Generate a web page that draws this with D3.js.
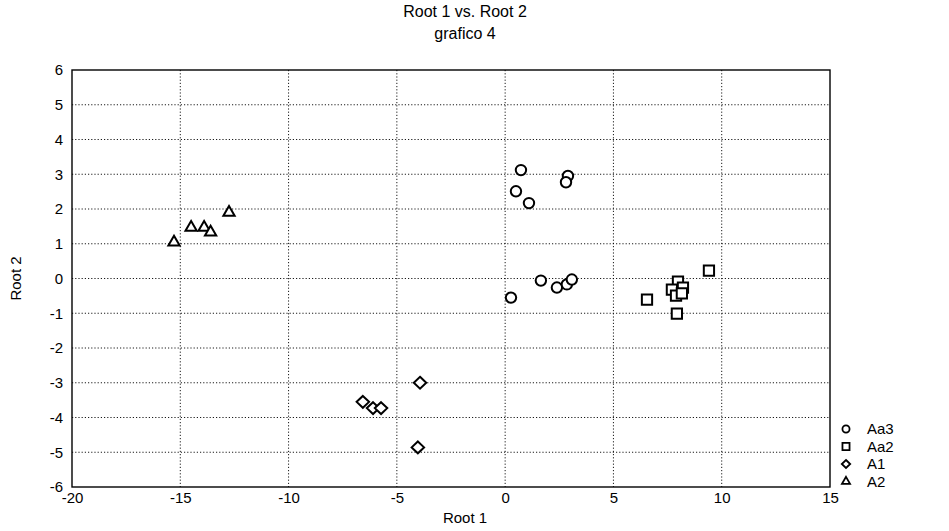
<!DOCTYPE html>
<html lang="en">
<head>
<meta charset="utf-8">
<title>Root 1 vs. Root 2</title>
<script src="https://d3js.org/d3.v7.min.js"></script>
<style>
  body { margin: 0; background: #fff; }
  text { font-family: "Liberation Sans", Arial, sans-serif; fill: #000; }
</style>
</head>
<body>
<script>
// series: [Root 1, Root 2]
var aa3 = [[0.73, 3.12], [2.9, 2.95], [2.81, 2.77], [0.5, 2.51], [1.1, 2.17],
           [1.65, -0.06], [2.39, -0.26], [2.85, -0.17], [3.08, -0.03], [0.27, -0.55]];
var aa2 = [[9.41, 0.23], [7.98, -0.09], [7.7, -0.32], [8.21, -0.26], [7.89, -0.49],
           [8.16, -0.43], [6.55, -0.61], [7.93, -1.01]];
var a1 = [[-3.93, -3.0], [-6.57, -3.55], [-6.1, -3.73], [-5.73, -3.73], [-4.03, -4.86]];
var a2 = [[-15.29, 1.04], [-14.5, 1.47], [-13.9, 1.47], [-13.6, 1.33], [-12.75, 1.9]];

var seriesNames = ["Aa3", "Aa2", "A1", "A2"];
var xTicks = [-20, -15, -10, -5, 0, 5, 10, 15];
var yTicks = [-6, -5, -4, -3, -2, -1, 0, 1, 2, 3, 4, 5, 6];

var W = 949, H = 531;
var margin = {top: 70, right: 119, bottom: 44, left: 72};
var width = W - margin.left - margin.right;
var height = H - margin.top - margin.bottom;

var svg = d3.select("body").append("svg")
  .attr("width", W).attr("height", H);

var g = svg.append("g")
  .attr("transform", "translate(" + margin.left + "," + margin.top + ")");

var xScale = d3.scaleLinear().domain([-20, 15]).range([0, width]);
var yScale = d3.scaleLinear().domain([-6, 6]).range([height, 0]);

// grid
g.selectAll(".vgrid").data(xTicks.slice(1, -1)).enter().append("line")
  .attr("x1", function(d) { return xScale(d); })
  .attr("x2", function(d) { return xScale(d); })
  .attr("y1", 0).attr("y2", height)
  .attr("stroke", "#000").attr("stroke-width", 0.9)
  .attr("stroke-dasharray", "1.2,2");
g.selectAll(".hgrid").data(yTicks.slice(1, -1)).enter().append("line")
  .attr("y1", function(d) { return yScale(d); })
  .attr("y2", function(d) { return yScale(d); })
  .attr("x1", 0).attr("x2", width)
  .attr("stroke", "#000").attr("stroke-width", 0.9)
  .attr("stroke-dasharray", "1.2,2");

// axes (plain hyphen for negatives, like the original)
var fmt = function(d) { return String(d); };
var xAxis = d3.axisBottom(xScale).tickValues(xTicks).tickFormat(fmt).tickSize(0).tickPadding(5);
var yAxis = d3.axisLeft(yScale).tickValues(yTicks).tickFormat(fmt).tickSize(0).tickPadding(9);
var xg = g.append("g").attr("transform", "translate(0," + height + ")").call(xAxis);
var yg = g.append("g").call(yAxis);
xg.select(".domain").remove();
yg.select(".domain").remove();
xg.attr("font-family", null).attr("font-size", "15px");
yg.attr("font-family", null).attr("font-size", "15px");

// frame
g.append("rect").attr("width", width).attr("height", height)
  .attr("fill", "none").attr("stroke", "#000").attr("stroke-width", 1.4);

// markers
var diamond = {
  draw: function(ctx, size) {
    var r = Math.sqrt(size / 2);
    ctx.moveTo(0, -r); ctx.lineTo(r * 1.05, 0); ctx.lineTo(0, r); ctx.lineTo(-r * 1.05, 0); ctx.closePath();
  }
};
var types = [d3.symbolCircle, d3.symbolSquare, diamond, d3.symbolTriangle];
var sizes = [85, 105, 70, 55];
[aa3, aa2, a1, a2].forEach(function(data, i) {
  g.selectAll(".s" + i).data(data).enter().append("path")
    .attr("d", d3.symbol().type(types[i]).size(sizes[i]))
    .attr("transform", function(d) {
      return "translate(" + xScale(d[0]) + "," + yScale(d[1]) + ")";
    })
    .attr("fill", "#fff").attr("stroke", "#000").attr("stroke-width", 2);
});

// titles
svg.append("text").attr("x", 465).attr("y", 17).attr("text-anchor", "middle")
  .attr("font-size", "16px").text("Root 1 vs. Root 2");
svg.append("text").attr("x", 465).attr("y", 39).attr("text-anchor", "middle")
  .attr("font-size", "16px").text("grafico 4");
svg.append("text").attr("x", 465).attr("y", 523).attr("text-anchor", "middle")
  .attr("font-size", "15px").text("Root 1");
svg.append("text").attr("transform", "translate(21," + (margin.top + yScale(0)) + ") rotate(-90)")
  .attr("text-anchor", "middle").attr("font-size", "15px").text("Root 2");

// legend
var legend = svg.selectAll(".legend").data(seriesNames).enter().append("g")
  .attr("transform", function(d, i) { return "translate(846," + (429 + i * 17.5) + ")"; });
legend.append("path")
  .attr("d", function(d, i) {
    return d3.symbol().type(types[i]).size([40, 50, 32, 28][i])();
  })
  .attr("fill", "#fff").attr("stroke", "#000").attr("stroke-width", 1.8);
legend.append("text").attr("x", 21).attr("y", 5).attr("font-size", "15px")
  .text(function(d) { return d; });
</script>
</body>
</html>
